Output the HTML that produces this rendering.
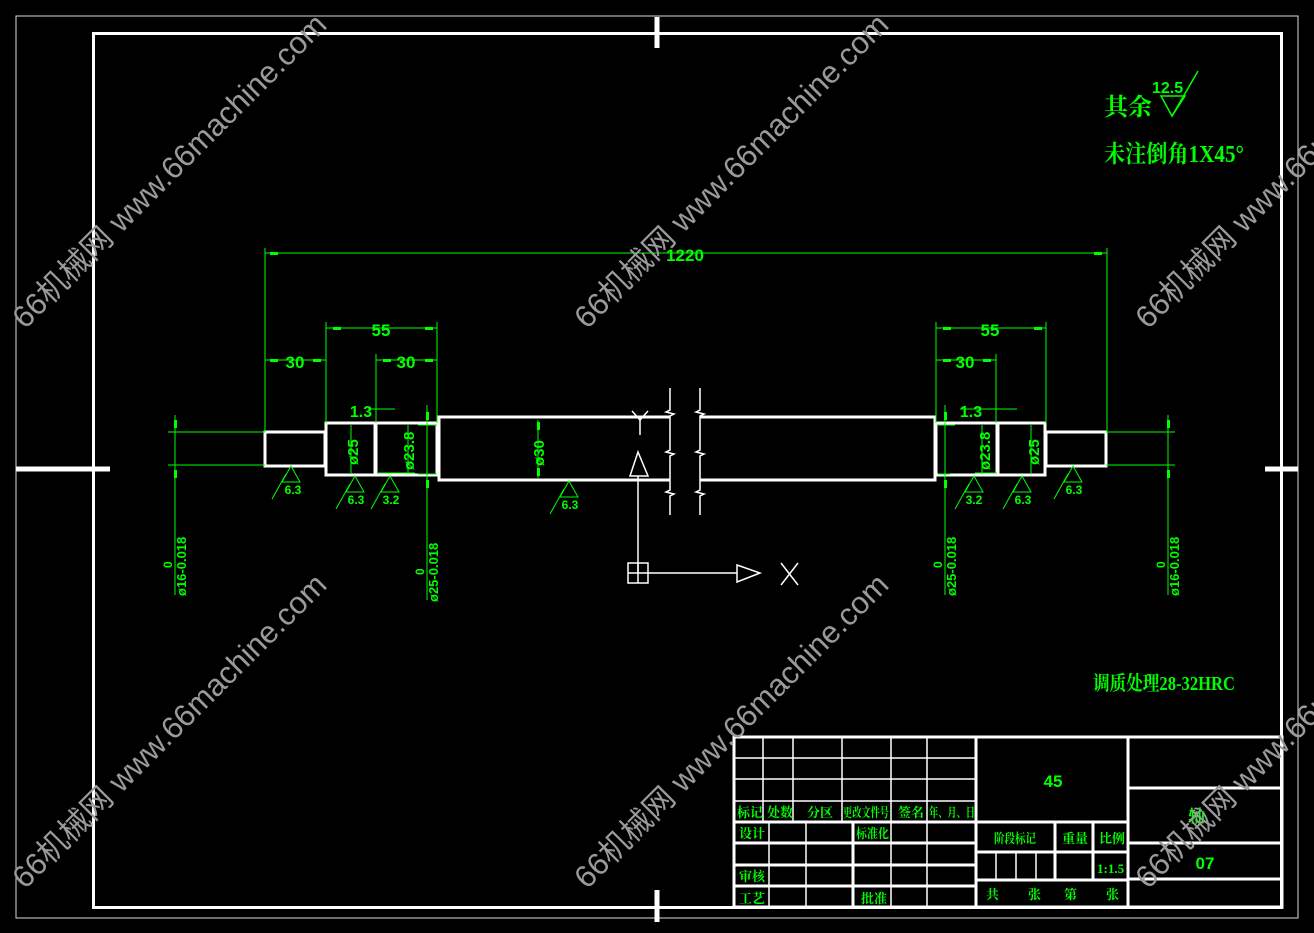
<!DOCTYPE html>
<html><head><meta charset="utf-8"><style>
html,body{margin:0;padding:0;background:#000;width:1314px;height:933px;overflow:hidden}
svg{display:block}
.g{fill:#00ff00;font-family:"Liberation Sans","Noto Sans CJK SC",sans-serif;font-weight:bold}
.cn{fill:#00ff00;font-family:"Liberation Serif","Noto Serif CJK SC","Noto Sans CJK SC",serif;font-weight:bold}
.wm{fill:#9a9a9a;font-family:"Liberation Sans","Noto Sans CJK SC",sans-serif;font-size:31px}
</style></head><body>
<svg width="1314" height="933" viewBox="0 0 1314 933" xmlns="http://www.w3.org/2000/svg">
<rect x="0" y="0" width="1314" height="933" fill="#000"/>
<rect x="16" y="16" width="1282" height="902" fill="none" stroke="#ddd" stroke-width="1"/>
<rect x="93.5" y="33.5" width="1188" height="874" fill="none" stroke="#fff" stroke-width="3"/>
<g stroke="#fff" stroke-width="5">
<line x1="657" y1="17" x2="657" y2="48"/><line x1="657" y1="890" x2="657" y2="922"/>
<line x1="16" y1="469" x2="110" y2="469"/><line x1="1265" y1="469" x2="1298" y2="469"/>
</g>

<g fill="none" stroke="#fff" stroke-width="3">
<rect x="265" y="432" width="60" height="34"/>
<rect x="326" y="423" width="49" height="52"/>
<rect x="376" y="423" width="61" height="52"/>
<polyline points="670,417 439,417 439,480 670,480"/>
<polyline points="700,417 935,417 935,480 700,480"/>
<rect x="936" y="423" width="61" height="52"/>
<rect x="998" y="423" width="47" height="52"/>
<rect x="1046" y="432" width="60" height="34"/>
</g>
<g fill="none" stroke="#fff" stroke-width="1.5">
<polyline points="670,388 670,410 666,412 674,414 670,416 670,450 666,452 674,454 670,456 670,490 666,492 674,494 670,496 670,515"/>
<polyline points="700,388 700,410 696,412 704,414 700,416 700,450 696,452 704,454 700,456 700,490 696,492 704,494 700,496 700,515"/>
<polyline points="632,411 640,420 648,411"/><line x1="640" y1="420" x2="640" y2="435"/>
<polygon points="638,452 630,476 648,476"/>
<line x1="638" y1="476" x2="638" y2="573"/>
<rect x="628" y="563" width="20" height="20"/><line x1="638" y1="563" x2="638" y2="583"/><line x1="628" y1="573" x2="648" y2="573"/>
<line x1="648" y1="573" x2="737" y2="573"/>
<polygon points="737,565 760,573 737,582"/>
<line x1="781" y1="563" x2="798" y2="585"/><line x1="798" y1="563" x2="781" y2="585"/>
</g>

<g stroke="#00ff00" stroke-width="1" fill="none">
<line x1="265" y1="248" x2="265" y2="432"/><line x1="1107" y1="248" x2="1107" y2="432"/>
<line x1="265" y1="253" x2="1107" y2="253"/>
<line x1="326" y1="322" x2="326" y2="423"/><line x1="437" y1="322" x2="437" y2="423"/><line x1="376" y1="354" x2="376" y2="423"/>
<line x1="326" y1="328" x2="437" y2="328"/>
<line x1="265" y1="360" x2="326" y2="360"/><line x1="376" y1="360" x2="437" y2="360"/>
<line x1="936" y1="322" x2="936" y2="423"/><line x1="1046" y1="322" x2="1046" y2="423"/><line x1="996" y1="354" x2="996" y2="423"/>
<line x1="936" y1="328" x2="1046" y2="328"/><line x1="936" y1="360" x2="996" y2="360"/>
<line x1="368" y1="409" x2="395" y2="409"/><line x1="960" y1="409" x2="1017" y2="409"/>
<line x1="168" y1="432" x2="265" y2="432"/><line x1="168" y1="465" x2="265" y2="465"/>
<line x1="175" y1="415" x2="175" y2="595"/>
<line x1="427" y1="405" x2="427" y2="600"/>
<line x1="945" y1="405" x2="945" y2="595"/>
<line x1="1106" y1="432" x2="1175" y2="432"/><line x1="1106" y1="465" x2="1175" y2="465"/>
<line x1="1168" y1="415" x2="1168" y2="595"/>
<line x1="351" y1="425" x2="351" y2="474"/><line x1="408" y1="425" x2="408" y2="474"/><line x1="378" y1="473" x2="415" y2="473"/>
<line x1="538" y1="420" x2="538" y2="478"/>
<line x1="1031" y1="425" x2="1031" y2="474"/><line x1="982" y1="425" x2="982" y2="474"/><line x1="975" y1="473" x2="997" y2="473"/>
<line x1="938" y1="425" x2="955" y2="425"/><line x1="938" y1="474" x2="950" y2="474"/>
<line x1="418" y1="425" x2="437" y2="425"/><line x1="418" y1="474" x2="437" y2="474"/>
</g>
<g fill="#00ff00">
<rect x="270" y="252" width="8" height="3"/><rect x="1094" y="252" width="8" height="3"/>
<rect x="333" y="327" width="8" height="3"/><rect x="425" y="327" width="8" height="3"/>
<rect x="270" y="359" width="8" height="3"/><rect x="313" y="359" width="8" height="3"/>
<rect x="383" y="359" width="8" height="3"/><rect x="425" y="359" width="8" height="3"/>
<rect x="943" y="327" width="8" height="3"/><rect x="1034" y="327" width="8" height="3"/>
<rect x="943" y="359" width="8" height="3"/><rect x="983" y="359" width="8" height="3"/>
<rect x="174" y="420" width="3" height="8"/><rect x="174" y="470" width="3" height="8"/>
<rect x="1167" y="420" width="3" height="8"/><rect x="1167" y="470" width="3" height="8"/>
<rect x="426" y="412" width="3" height="8"/><rect x="426" y="480" width="3" height="8"/>
<rect x="944" y="412" width="3" height="8"/><rect x="944" y="480" width="3" height="8"/>
<rect x="537" y="422" width="3" height="8"/><rect x="537" y="468" width="3" height="8"/>
</g>
<g class="g" font-size="17" text-anchor="middle">
<text x="685" y="261">1220</text>
<text x="381" y="336">55</text><text x="295" y="368">30</text><text x="406" y="368">30</text>
<text x="990" y="336">55</text><text x="965" y="368">30</text>
<text x="361" y="417" font-size="16">1.3</text><text x="971" y="417" font-size="16">1.3</text>
</g>
<g class="g" font-size="15">
<text transform="translate(358,465) rotate(-90)">ø25</text>
<text transform="translate(414,470) rotate(-90)">ø23.8</text>
<text transform="translate(544,466) rotate(-90)">ø30</text>
<text transform="translate(990,470) rotate(-90)">ø23.8</text>
<text transform="translate(1039,465) rotate(-90)">ø25</text>
<text transform="translate(186,596) rotate(-90)" font-size="13">ø16-0.018</text>
<text transform="translate(172,568) rotate(-90)" font-size="12">0</text>
<text transform="translate(438,602) rotate(-90)" font-size="13">ø25-0.018</text>
<text transform="translate(424,575) rotate(-90)" font-size="12">0</text>
<text transform="translate(956,596) rotate(-90)" font-size="13">ø25-0.018</text>
<text transform="translate(942,568) rotate(-90)" font-size="12">0</text>
<text transform="translate(1179,596) rotate(-90)" font-size="13">ø16-0.018</text>
<text transform="translate(1165,568) rotate(-90)" font-size="12">0</text>
</g>
<defs>
<g id="r"><polygon points="0,0 -9,16 9,16" fill="none" stroke="#00ff00" stroke-width="1"/><line x1="-5" y1="8" x2="-19" y2="33" stroke="#00ff00"/></g>
</defs>
<use href="#r" x="291" y="466"/><use href="#r" x="355" y="476"/><use href="#r" x="390" y="476"/><use href="#r" x="569" y="481"/>
<use href="#r" x="974" y="476"/><use href="#r" x="1022" y="476"/><use href="#r" x="1073" y="466"/>
<g class="g" font-size="12" text-anchor="middle">
<text x="293" y="494">6.3</text><text x="356" y="504">6.3</text><text x="391" y="504">3.2</text><text x="570" y="509">6.3</text>
<text x="974" y="504">3.2</text><text x="1023" y="504">6.3</text><text x="1074" y="494">6.3</text>
</g>

<text class="cn" x="1104" y="115" font-size="24">其余</text>
<text class="g" x="1152" y="93" font-size="16" font-weight="normal">12.5</text>
<polygon points="1161,96 1185,96 1172,116" fill="none" stroke="#00ff00" stroke-width="1.5"/>
<line x1="1172" y1="116" x2="1198" y2="71" stroke="#00ff00" stroke-width="1.5"/>
<text class="cn" x="1104" y="162" font-size="24" textLength="140" lengthAdjust="spacingAndGlyphs">未注倒角1X45°</text>
<text class="cn" x="1093" y="690" font-size="20" textLength="142" lengthAdjust="spacingAndGlyphs">调质处理28-32HRC</text>

<g stroke="#fff" fill="none" stroke-width="1.5">
<line x1="734" y1="758" x2="976" y2="758"/><line x1="734" y1="779" x2="976" y2="779"/><line x1="734" y1="801" x2="976" y2="801"/>
<line x1="763" y1="737" x2="763" y2="822"/><line x1="793" y1="737" x2="793" y2="822"/><line x1="842" y1="737" x2="842" y2="822"/><line x1="891" y1="737" x2="891" y2="907"/><line x1="927" y1="737" x2="927" y2="907"/>
<line x1="769" y1="822" x2="769" y2="907"/><line x1="806" y1="822" x2="806" y2="907"/>
<line x1="996" y1="852" x2="996" y2="879"/><line x1="1016" y1="852" x2="1016" y2="879"/><line x1="1036" y1="852" x2="1036" y2="879"/>
</g>
<g stroke="#fff" fill="none" stroke-width="3">
<rect x="734" y="737" width="548" height="170"/>
<line x1="976" y1="737" x2="976" y2="907"/><line x1="1128" y1="737" x2="1128" y2="907"/>
<line x1="734" y1="822" x2="1128" y2="822"/>
<line x1="734" y1="843" x2="976" y2="843"/><line x1="734" y1="865" x2="976" y2="865"/><line x1="734" y1="886" x2="976" y2="886"/>
<line x1="853" y1="822" x2="853" y2="907"/>
<line x1="976" y1="852" x2="1128" y2="852"/><line x1="976" y1="880" x2="1128" y2="880"/>
<line x1="1055" y1="822" x2="1055" y2="880"/><line x1="1093" y1="822" x2="1093" y2="880"/>
<line x1="1128" y1="788" x2="1282" y2="788"/><line x1="1128" y1="843" x2="1282" y2="843"/><line x1="1128" y1="879" x2="1282" y2="879"/>
</g>
<g class="cn" font-size="13">
<text x="737" y="817">标记</text><text x="767" y="817">处数</text><text x="807" y="817">分区</text><text x="843" y="817" textLength="46" lengthAdjust="spacingAndGlyphs">更改文件号</text><text x="898" y="817">签名</text><text x="929" y="817" textLength="46" lengthAdjust="spacingAndGlyphs">年、月、日</text>
<text x="739" y="838">设计</text><text x="856" y="838" textLength="33" lengthAdjust="spacingAndGlyphs">标准化</text>
<text x="739" y="881">审核</text><text x="739" y="903">工艺</text><text x="861" y="903">批准</text>
<text x="994" y="843" textLength="42" lengthAdjust="spacingAndGlyphs">阶段标记</text><text x="1062" y="843">重量</text><text x="1099" y="843">比例</text>
<text x="1097" y="873" font-size="13">1:1.5</text>
<text x="986" y="899">共</text><text x="1028" y="899">张</text><text x="1064" y="899">第</text><text x="1106" y="899">张</text>
<text x="1188" y="822" font-size="17">轴</text>
</g>
<text class="g" x="1053" y="787" font-size="17" text-anchor="middle">45</text>
<text class="g" x="1205" y="869" font-size="17" text-anchor="middle">07</text>

<g class="wm">
<text transform="translate(25,330) rotate(-45)">66机械网 www.66machine.com</text>
<text transform="translate(587,330) rotate(-45)">66机械网 www.66machine.com</text>
<text transform="translate(1148,330) rotate(-45)">66机械网 www.66machine.com</text>
<text transform="translate(25,890) rotate(-45)">66机械网 www.66machine.com</text>
<text transform="translate(587,890) rotate(-45)">66机械网 www.66machine.com</text>
<text transform="translate(1148,890) rotate(-45)">66机械网 www.66machine.com</text>
</g>
</svg>
</body></html>
